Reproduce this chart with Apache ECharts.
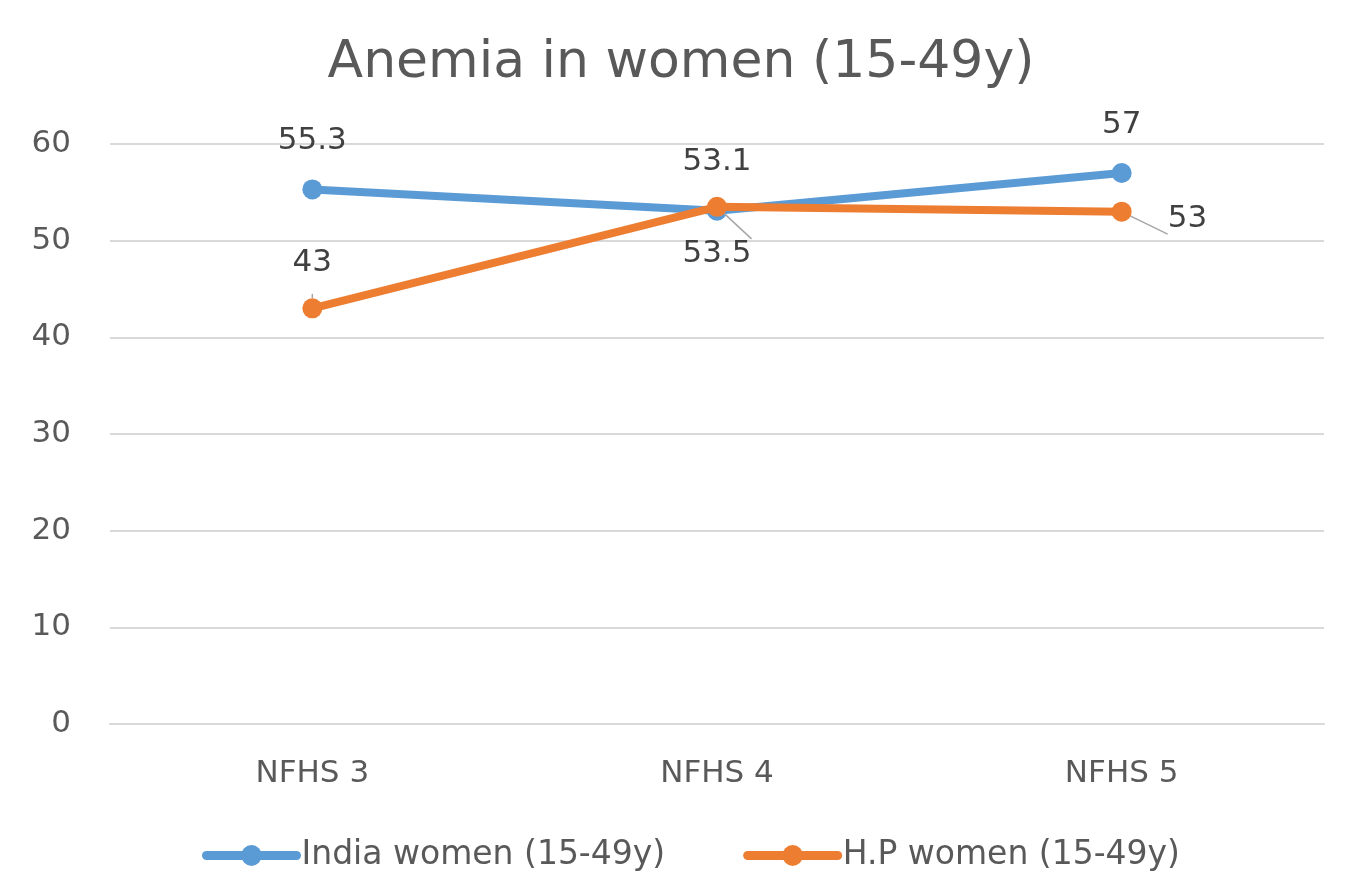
<!DOCTYPE html>
<html><head><meta charset="utf-8">
<script src="https://cdn.jsdelivr.net/npm/echarts@6/dist/echarts.min.js"></script>
<style>html,body{margin:0;padding:0;background:#fff;}#c{width:1362px;height:878px;}</style>
</head><body><div id="c"></div>
<script>
const categories = ['NFHS 3', 'NFHS 4', 'NFHS 5'];
const indiaValues = [55.3, 53.1, 57];
const hpValues = [43, 53.5, 53];
const yTicks = [0, 10, 20, 30, 40, 50, 60];

const chart = echarts.init(document.getElementById('c'));
const FONT = 'DejaVu Sans, sans-serif';
const labelFont = { fontFamily: FONT, fontSize: 31, color: '#404040' };

const indiaData = indiaValues.map(v => ({ value: v }));
const hpPlacement = [
  { position: 'top', distance: 20 },
  { position: 'bottom', distance: 22 },
  { position: 'right', distance: 36, offset: [0, 7] }
];
const hpData = hpValues.map((v, i) => ({ value: v, label: hpPlacement[i] }));

chart.setOption({
  animation: false,
  title: {
    text: 'Anemia in women (15-49y)', left: 'center', top: 32,
    textStyle: { fontFamily: FONT, fontSize: 52, fontWeight: 'normal', color: '#595959' }
  },
  grid: { left: 110, right: 38, top: 144, bottom: 154 },
  legend: {
    top: 834, left: 197, itemGap: 78, itemWidth: 90, itemHeight: 26, itemTextGap: 8,
    lineStyle: { width: 9, cap: 'round' },
    textStyle: { fontFamily: FONT, fontSize: 33, color: '#595959' },
    data: ['India women (15-49y)', 'H.P women (15-49y)']
  },
  xAxis: {
    type: 'category', data: categories, boundaryGap: true,
    axisLine: { show: true, lineStyle: { color: '#d9d9d9', width: 2 } },
    axisTick: { show: false },
    axisLabel: { fontFamily: FONT, fontSize: 31, color: '#595959', margin: 34 }
  },
  yAxis: {
    type: 'value', min: yTicks[0], max: yTicks[yTicks.length - 1], interval: 10,
    axisLine: { show: false }, axisTick: { show: false },
    splitLine: { lineStyle: { color: '#d9d9d9', width: 2 } },
    axisLabel: { fontFamily: FONT, fontSize: 31, color: '#595959', margin: 39 }
  },
  series: [
    {
      name: 'India women (15-49y)', type: 'line', data: indiaData,
      symbol: 'circle', symbolSize: 20,
      lineStyle: { color: '#5B9BD5', width: 8, cap: 'round' }, itemStyle: { color: '#5B9BD5' },
      label: Object.assign({ show: true, position: 'top', distance: 23 }, labelFont),
      z: 2
    },
    {
      name: 'H.P women (15-49y)', type: 'line', data: hpData,
      symbol: 'circle', symbolSize: 20,
      lineStyle: { color: '#ED7D31', width: 8, cap: 'round' }, itemStyle: { color: '#ED7D31' },
      label: Object.assign({ show: true }, labelFont),
      labelLine: { show: true, lineStyle: { color: '#a6a6a6', width: 1.5 } },
      z: 3
    }
  ]
});
</script></body></html>
